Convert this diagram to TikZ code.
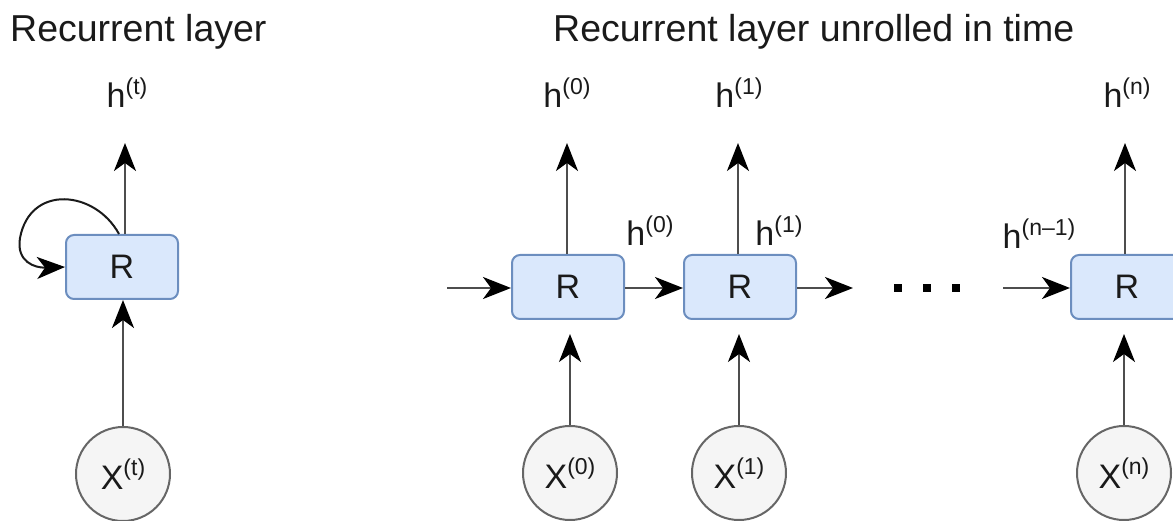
\documentclass[tikz,border=0pt]{standalone}
\usepackage{fontspec}
\setmainfont{Liberation Sans}
\usetikzlibrary{arrows.meta}
\definecolor{boxfill}{HTML}{DAE8FC}
\definecolor{boxline}{HTML}{6C8EBF}
\definecolor{circfill}{HTML}{F5F5F5}
\definecolor{circline}{HTML}{666666}
\definecolor{wire}{HTML}{4D4D4D}
\definecolor{ink}{HTML}{1A1A1A}
\newcommand{\supx}[1]{\raisebox{0.40em}{\fontsize{23}{23}\selectfont #1}}
\tikzset{
  tip/.tip={Stealth[length=28pt, width=22pt, inset=8pt, color=black]},
  cell/.style={draw=boxline, fill=boxfill, line width=2pt, rounded corners=8pt,
    minimum width=112pt, minimum height=64pt, inner sep=0pt, text=ink,
    font=\fontsize{34}{34}\selectfont},
  inp/.style={circle, draw=circline, fill=circfill, line width=2pt, text=ink,
    minimum size=94pt, inner sep=0pt, font=\fontsize{34}{34}\selectfont},
  lbl/.style={inner sep=0pt, text=ink, font=\fontsize{34}{34}\selectfont},
  ttl/.style={inner sep=0pt, anchor=base west, text=ink,
    font=\fontsize{37.5}{37.5}\selectfont},
  flow/.style={draw=wire, line width=2pt, -tip},
  dotsq/.style={fill=black, minimum size=8pt, inner sep=0pt},
}
\begin{document}
\begin{tikzpicture}[x=1pt, y=-1pt]
\useasboundingbox (0,0) rectangle (1173,521);

% titles
\node[ttl] (t1) at (10,42) {Recurrent layer};
\node[ttl] (t2) at (553,42) {Recurrent layer unrolled in time};

% ---- folded recurrent layer ----
\node[cell] (rl) at (122,267) {R};
\node[inp] (xl) at (123,474) {X\supx{(t)}};
\node[lbl, anchor=base] (hl) at (127,108) {h\supx{(t)}};
\coordinate (hlt) at (125,143);
\draw[flow] (rl.north -| hlt) -- (hlt);
\draw[flow] (xl.north) -- (rl.south -| xl.north);
\draw[line width=2pt, draw=ink, -tip]
  ([xshift=-3pt]rl.north) .. controls (95,190) and (30,184) .. (20,238)
  .. controls (16,262) and (35,268) .. (rl.west);

% ---- unrolled recurrent layer ----
\node[cell] (r0) at (568,287) {R};
\node[cell] (r1) at (740,287) {R};
\node[cell] (rn) at (1127,287) {R};

\node[inp] (x0) at (570,473) {X\supx{(0)}};
\node[inp] (x1) at (739,473) {X\supx{(1)}};
\node[inp] (xn) at (1124,473) {X\supx{(n)}};

\node[lbl, anchor=base] (h0) at (567,108) {h\supx{(0)}};
\node[lbl, anchor=base] (h1) at (739,108) {h\supx{(1)}};
\node[lbl, anchor=base] (hn) at (1127,108) {h\supx{(n)}};

\node[lbl, anchor=base] (s0) at (650,246) {h\supx{(0)}};
\node[lbl, anchor=base] (s1) at (779,246) {h\supx{(1)}};
\node[lbl, anchor=base] (sn) at (1039,249) {h\supx{(n\textendash 1)}};

% output arrows
\coordinate (o0) at (567,143);
\coordinate (o1) at (738,143);
\coordinate (on) at (1125,143);
\draw[flow] (r0.north -| o0) -- (o0);
\draw[flow] (r1.north -| o1) -- (o1);
\draw[flow] (rn.north -| on) -- (on);

% input arrows, stopping short of the cells
\coordinate (i0) at (570,334);
\coordinate (i1) at (739,334);
\coordinate (in) at (1124,334);
\draw[flow] (x0.north) -- (i0);
\draw[flow] (x1.north) -- (i1);
\draw[flow] (xn.north) -- (in);

% hidden-state chain
\coordinate (start) at (447,288);
\coordinate (gapl) at (853,288);
\coordinate (gapr) at (1003,288);
\draw[flow] (start) -- (r0.west |- start);
\draw[flow] (r0.east |- start) -- (r1.west |- start);
\draw[flow] (r1.east |- start) -- (gapl);
\draw[flow] (gapr) -- (rn.west |- gapr);

\node[dotsq] (d1) at (898,288) {};
\node[dotsq] (d2) at (927,288) {};
\node[dotsq] (d3) at (956,288) {};
\end{tikzpicture}
\end{document}
